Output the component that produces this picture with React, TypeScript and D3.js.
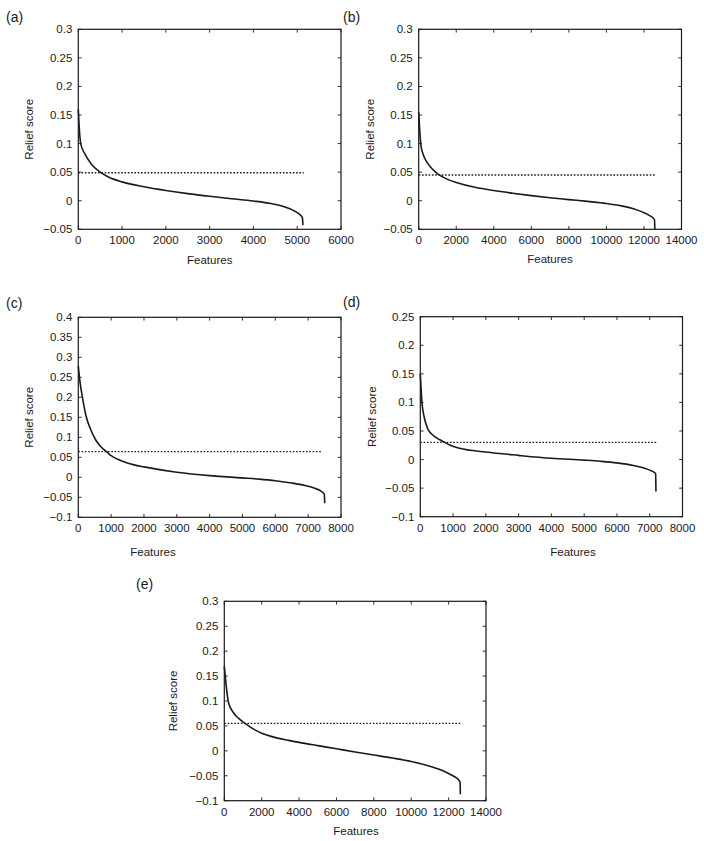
import React from "react";
import * as d3 from "d3";

// ---- Data ----
const aX = [0, 20, 55, 150, 300, 500, 700, 1000, 1500, 2000, 2500, 3000, 3500, 4000, 4400, 4700, 4900, 5050, 5120, 5130];
const aY = [0.16, 0.13, 0.1, 0.082, 0.064, 0.05, 0.041, 0.033, 0.0245, 0.018, 0.0125, 0.0078, 0.0036, -0.0005, -0.005, -0.0105, -0.0165, -0.0235, -0.03, -0.043];

const bX = [0, 60, 120, 250, 450, 650, 900, 1200, 1600, 2000, 3000, 4000, 5000, 6000, 7000, 8000, 9000, 10000, 10800, 11400, 11900, 12300, 12560, 12580];
const bY = [0.155, 0.12, 0.097, 0.08, 0.067, 0.058, 0.05, 0.043, 0.0365, 0.032, 0.0235, 0.0178, 0.0132, 0.009, 0.0052, 0.002, -0.0012, -0.0048, -0.009, -0.0135, -0.0195, -0.026, -0.033, -0.05];

const cX = [0, 50, 130, 230, 390, 540, 740, 860, 1000, 1200, 1450, 1700, 2000, 3000, 4000, 5000, 5500, 6000, 6500, 6900, 7200, 7400, 7490, 7505];
const cY = [0.278, 0.24, 0.198, 0.155, 0.117, 0.092, 0.072, 0.064, 0.054, 0.045, 0.037, 0.031, 0.026, 0.0128, 0.0042, -0.0015, -0.0045, -0.0085, -0.0142, -0.0205, -0.0275, -0.035, -0.042, -0.065];

const dX = [0, 50, 120, 225, 380, 580, 750, 900, 1200, 2000, 3000, 4000, 5000, 5500, 6000, 6500, 6800, 7000, 7150, 7180, 7190];
const dY = [0.15, 0.1, 0.074, 0.054, 0.043, 0.035, 0.03, 0.0255, 0.0198, 0.0132, 0.0073, 0.0022, -0.001, -0.003, -0.0058, -0.0103, -0.0145, -0.0185, -0.023, -0.025, -0.056];

const eX = [0, 230, 500, 770, 1125, 1660, 2000, 2560, 3450, 4000, 5000, 6000, 7000, 8000, 9000, 10000, 11000, 11500, 12000, 12300, 12530, 12610, 12630];
const eY = [0.17, 0.096, 0.076, 0.065, 0.0545, 0.0415, 0.0355, 0.0285, 0.021, 0.017, 0.0105, 0.0042, -0.0022, -0.0083, -0.0145, -0.0215, -0.031, -0.037, -0.0455, -0.0515, -0.058, -0.063, -0.087];

const thresholds = [0.049, 0.045, 0.064, 0.03, 0.055];
const thresholdEnds = [5150, 12620, 7420, 7210, 12620];
const panelLabels = ["(a)", "(b)", "(c)", "(d)", "(e)"];
const xDomains: [number, number][] = [[0, 6000], [0, 14000], [0, 8000], [0, 8000], [0, 14000]];
const xSteps = [1000, 2000, 1000, 1000, 2000];
const yDomains: [number, number][] = [[-0.05, 0.3], [-0.05, 0.3], [-0.1, 0.4], [-0.1, 0.25], [-0.1, 0.3]];
const yStep = 0.05;
const seriesX = [aX, bX, cX, dX, eX];
const seriesY = [aY, bY, cY, dY, eY];

// ---- Layout ----
const boxes = [
  { l: 78.3, r: 341, t: 29.3, b: 229.3, lab: [6, 22], yl: 29.3, fx: 209.7, fy: 264 },
  { l: 418.7, r: 681.5, t: 29.3, b: 229.3, lab: [343, 22], yl: 370.3, fx: 550, fy: 263 },
  { l: 78.3, r: 341, t: 317.3, b: 517.3, lab: [6, 308], yl: 29.3, fx: 153, fy: 556 },
  { l: 420.3, r: 682.5, t: 316.7, b: 516.7, lab: [343, 307], yl: 372, fx: 573, fy: 556 },
  { l: 224.3, r: 486, t: 601.3, b: 800.7, lab: [136, 589], yl: 173.3, fx: 356, fy: 835 },
];

const FONT = "'Liberation Sans', Arial, Helvetica, sans-serif";
const INK = "#1a1a1a";

function fmtY(v: number): string {
  const r = Math.round(v * 100) / 100;
  if (Math.abs(r) < 1e-9) return "0";
  const s = String(Math.abs(r));
  return (r < 0 ? "\u2212" : "") + s;
}

function Panel({ i }: { i: number }) {
  const bx = boxes[i];
  const x = d3.scaleLinear().domain(xDomains[i]).range([bx.l, bx.r]);
  const y = d3.scaleLinear().domain(yDomains[i]).range([bx.b, bx.t]);
  const xt = d3.range(xDomains[i][0], xDomains[i][1] + 1, xSteps[i]);
  const nY = Math.round((yDomains[i][1] - yDomains[i][0]) / yStep);
  const yt = d3.range(0, nY + 1).map((k) => yDomains[i][0] + k * yStep);
  const pts: [number, number][] = seriesX[i].map((v, k) => [v, seriesY[i][k]]);
  const line = d3
    .line<[number, number]>()
    .x((d) => x(d[0]))
    .y((d) => y(d[1]))
    .curve(d3.curveMonotoneX);
  const tk = 3.3;
  return (
    <g>
      <text x={bx.lab[0]} y={bx.lab[1]} fontSize={14} fontFamily={FONT} fill={INK}>
        {panelLabels[i]}
      </text>
      <line
        x1={x(0)}
        x2={x(thresholdEnds[i])}
        y1={y(thresholds[i])}
        y2={y(thresholds[i])}
        stroke={INK}
        strokeWidth={1.3}
        strokeDasharray="1.6,1.7"
      />
      <path d={line(pts) || ""} fill="none" stroke={INK} strokeWidth={1.6} strokeLinejoin="round" />
      {xt.map((v) => (
        <g key={"x" + v}>
          <line x1={x(v)} x2={x(v)} y1={bx.b} y2={bx.b - tk} stroke={INK} strokeWidth={0.9} />
          <line x1={x(v)} x2={x(v)} y1={bx.t} y2={bx.t + tk} stroke={INK} strokeWidth={0.9} />
          <text x={x(v)} y={bx.b + 15} fontSize={11.5} fontFamily={FONT} fill={INK} textAnchor="middle">
            {String(v)}
          </text>
        </g>
      ))}
      {yt.map((v, k) => (
        <g key={"y" + k}>
          <line x1={bx.l} x2={bx.l + tk} y1={y(v)} y2={y(v)} stroke={INK} strokeWidth={0.9} />
          <line x1={bx.r} x2={bx.r - tk} y1={y(v)} y2={y(v)} stroke={INK} strokeWidth={0.9} />
          <text x={bx.l - 6} y={y(v) + 4} fontSize={11.5} fontFamily={FONT} fill={INK} textAnchor="end">
            {fmtY(v)}
          </text>
        </g>
      ))}
      <rect
        x={bx.l}
        y={bx.t}
        width={bx.r - bx.l}
        height={bx.b - bx.t}
        fill="none"
        stroke={INK}
        strokeWidth={1.2}
      />
      <text
        transform={`translate(${bx.yl + 4},${(bx.t + bx.b) / 2}) rotate(-90)`}
        fontSize={11.5}
        fontFamily={FONT}
        fill={INK}
        textAnchor="middle"
      >
        Relief score
      </text>
      <text x={bx.fx} y={bx.fy} fontSize={11.5} fontFamily={FONT} fill={INK} textAnchor="middle">
        Features
      </text>
    </g>
  );
}

export default function App() {
  return (
    <svg
      width={704}
      height={841}
      viewBox="0 0 704 841"
      style={{ position: "absolute", left: 0, top: 0, background: "#fff" }}
    >
      <rect x={0} y={0} width={704} height={841} fill="#fff" />
      {[0, 1, 2, 3, 4].map((i) => (
        <Panel key={i} i={i} />
      ))}
    </svg>
  );
}
